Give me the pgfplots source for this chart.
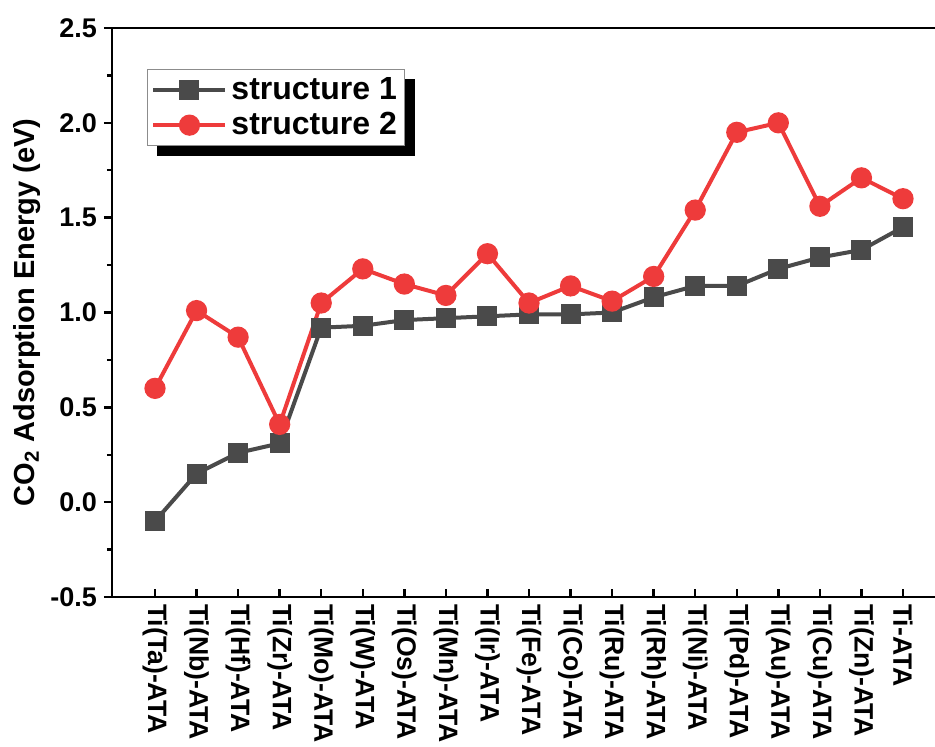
\documentclass[border=0pt]{standalone}
\usepackage{pgfplots}
\pgfplotsset{compat=1.18}
\usepackage{fontspec}
\setmainfont{Liberation Sans}
\usetikzlibrary{backgrounds}

\definecolor{sgray}{RGB}{74,74,74}
\definecolor{sred}{RGB}{238,59,59}

\begin{document}
\begin{tikzpicture}
\begin{axis}[
  scale only axis,
  width=411.5pt, height=284.5pt,
  xmin=-1.035, xmax=18.77,
  ymin=-0.5, ymax=2.5,
  axis y line*=left,
  axis line style={line width=1.3pt},
  xtick={0,...,18},
  xticklabels={Ti(Ta)-ATA,Ti(Nb)-ATA,Ti(Hf)-ATA,Ti(Zr)-ATA,Ti(Mo)-ATA,Ti(W)-ATA,Ti(Os)-ATA,Ti(Mn)-ATA,Ti(Ir)-ATA,Ti(Fe)-ATA,Ti(Co)-ATA,Ti(Ru)-ATA,Ti(Rh)-ATA,Ti(Ni)-ATA,Ti(Pd)-ATA,Ti(Au)-ATA,Ti(Cu)-ATA,Ti(Zn)-ATA,Ti-ATA},
  x tick label style={rotate=-90, anchor=west, font=\bfseries\fontsize{13.3}{15}\selectfont},
  xtick pos=bottom,
  xtick align=inside,
  x tick style={line width=1.2pt, black},
  ytick={-0.5,0,0.5,1,1.5,2,2.5},
  minor y tick num=1,
  ytick align=outside,
  ytick pos=left,
  y tick style={line width=1.2pt, black},
  major tick length=4pt,
  minor tick length=2.5pt,
  y tick label style={font=\bfseries\fontsize{13.5}{15}\selectfont},
  yticklabel style={/pgf/number format/.cd, fixed, fixed zerofill, precision=1, assume math mode=true},
  every axis y label/.style={at={(rel axis cs:0,0.5)}, xshift=-42.5pt, rotate=90, anchor=center},
  ylabel={\bfseries\fontsize{14.5}{16}\selectfont CO\textsubscript{2} Adsorption Energy (eV)},
  legend style={at={(rel axis cs:0.0425,0.928)}, anchor=north west, name=leg,
    draw=black!45, line width=0.5pt, fill=white,
    font=\bfseries\fontsize{16}{19}\selectfont,
    inner xsep=2pt, inner ysep=2pt, row sep=1pt},
  legend cell align=left,
  legend image code/.code={%
    \draw[#1, mark=none] (0pt,0pt) -- (36pt,0pt);
    \path[#1, draw=none] plot coordinates {(18pt,0pt)};},
  clip=false,
]
\addplot[color=sgray, line width=2pt, mark=square*, mark size=4pt, mark options={solid, fill=sgray, draw=sgray}]
coordinates {
(0,-0.10) (1,0.15) (2,0.26) (3,0.31) (4,0.92) (5,0.93) (6,0.96) (7,0.97) (8,0.98) (9,0.99)
(10,0.99) (11,1.00) (12,1.08) (13,1.14) (14,1.14) (15,1.23) (16,1.29) (17,1.33) (18,1.45)
};
\addlegendentry{structure 1}
\addplot[color=sred, line width=2pt, mark=*, mark size=4.3pt, mark options={solid, fill=sred, draw=sred}]
coordinates {
(0,0.60) (1,1.01) (2,0.87) (3,0.41) (4,1.05) (5,1.23) (6,1.15) (7,1.09) (8,1.31) (9,1.05)
(10,1.14) (11,1.06) (12,1.19) (13,1.54) (14,1.95) (15,2.00) (16,1.56) (17,1.71) (18,1.60)
};
\addlegendentry{structure 2}
\coordinate (bbA) at (rel axis cs:0,0);
\coordinate (bbB) at (rel axis cs:1,1);
\end{axis}
% solid black shadow behind the legend box
\begin{scope}[on background layer]
  \fill[black] ([xshift=5pt,yshift=-5pt]leg.south west) rectangle ([xshift=5pt,yshift=-5pt]leg.north east);
\end{scope}
\pgfresetboundingbox
\path[use as bounding box] ([xshift=-56pt,yshift=-75pt]bbA) rectangle ([yshift=14pt]bbB);
\end{tikzpicture}
\end{document}
